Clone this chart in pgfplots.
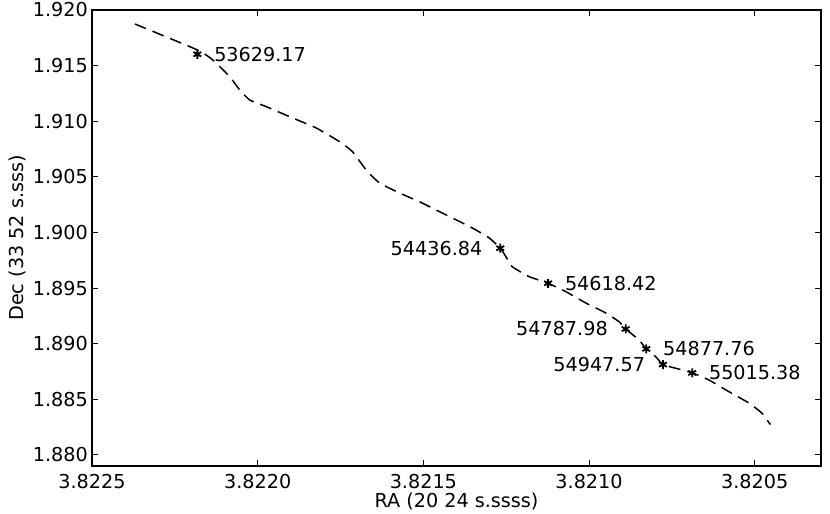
\documentclass[border=0pt]{standalone}
\usepackage{pgfplots}
\usepackage{pgfplotstable}
\pgfplotsset{compat=1.18}
\usepackage{fontspec}
\setmainfont{DejaVu Sans}

\pgfplotstableread{
x y
3.8223705 1.918742
3.8221816 1.916404
3.8221355 1.915506
3.8220843 1.914004
3.8220542 1.912809
3.8220241 1.911910
3.8219738 1.911308
3.8218946 1.910292
3.8218232 1.909393
3.8217530 1.908162
3.8217139 1.907263
3.8216726 1.905618
3.8216325 1.904449
3.8215723 1.903550
3.8215121 1.902768
3.8214618 1.902022
3.8214127 1.901303
3.8213524 1.900404
3.8213012 1.899505
3.8212680 1.898580
3.8212509 1.897824
3.8212320 1.896925
3.8211807 1.896026
3.8211235 1.895430
3.8210702 1.894678
3.8210100 1.893662
3.8209497 1.892763
3.8209097 1.891981
3.8208895 1.891320
3.8208494 1.890336
3.8208273 1.889530
3.8207991 1.888835
3.8207771 1.888120
3.8207389 1.887792
3.8206888 1.887370
3.8206386 1.886741
3.8205783 1.885689
3.8205181 1.884673
3.8204790 1.883774
3.8204527 1.882725
}\curvedata

\pgfplotstableread{
x y label
3.822182 1.91602 53629.17
3.8211235 1.89543 54618.42
3.8208273 1.88953 54877.76
3.8206888 1.88737 55015.38
}\westpts

\pgfplotstableread{
x y label
3.821268 1.89858 54436.84
3.8208895 1.89132 54787.98
3.8207771 1.88812 54947.57
}\eastpts

\begin{document}
\fontsize{19.2bp}{22bp}\selectfont
\begin{tikzpicture}
\begin{axis}[
  scale only axis,
  width=729bp, height=456bp,
  x dir=reverse,
  xmin=3.8203, xmax=3.8225,
  ymin=1.879, ymax=1.920,
  xtick={3.8205,3.8210,3.8215,3.8220,3.8225},
  ytick={1.880,1.885,1.890,1.895,1.900,1.905,1.910,1.915,1.920},
  scaled ticks=false,
  tick align=inside,
  major tick length=6bp,
  tick style={black, line width=0.8bp},
  axis line style={black, line width=1.1bp},
  /pgf/number format/assume math mode=true,
  xticklabel style={/pgf/number format/.cd, fixed, fixed zerofill, precision=4, /tikz/.cd, anchor=base, inner sep=0pt, yshift=-22bp},
  yticklabel style={/pgf/number format/.cd, fixed, fixed zerofill, precision=3, /tikz/.cd, anchor=east, inner sep=0pt, xshift=-4bp},
  xlabel={RA (20 24 s.ssss)},
  ylabel={Dec (33 52 s.sss)},
  xlabel style={at={(axis description cs:0.5,-0.0921)}, anchor=base, inner sep=0pt},
  ylabel style={at={(axis description cs:-0.0942,0.5)}, anchor=base, inner sep=0pt},
  clip=false,
]
\addplot[black, line width=1.5bp, dash pattern=on 12bp off 7bp, smooth, tension=0.3] table[x=x, y=y] {\curvedata};
\addplot[only marks, mark=asterisk, mark size=4.5bp, mark options={line width=1.8bp, black},
  nodes near coords, point meta=explicit symbolic,
  nodes near coords style={anchor=west, inner sep=0pt, xshift=16bp, yshift=0pt, black}]
  table[x=x, y=y, meta=label] {\westpts};
\addplot[only marks, mark=asterisk, mark size=4.5bp, mark options={line width=1.8bp, black},
  nodes near coords, point meta=explicit symbolic,
  nodes near coords style={anchor=east, inner sep=0pt, xshift=-17bp, yshift=0pt, black}]
  table[x=x, y=y, meta=label] {\eastpts};
\end{axis}
\pgfresetboundingbox
\path ([shift={(-92bp,-48bp)}]current axis.south west) rectangle ([shift={(9bp,10bp)}]current axis.north east);
\end{tikzpicture}
\end{document}
